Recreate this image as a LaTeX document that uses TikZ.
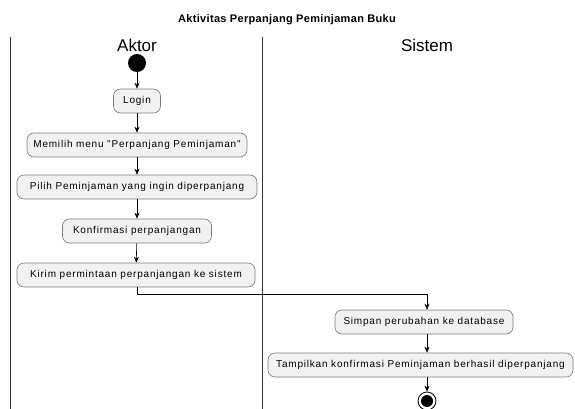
\documentclass[tikz,border=0pt]{standalone}
\usepackage{fontspec}
\setmainfont{Liberation Sans}
\newfontfamily\boxfont[LetterSpace=8]{Liberation Sans}
\newfontfamily\titlefont[LetterSpace=3]{Liberation Sans}
\usetikzlibrary{arrows.meta}
\definecolor{boxfill}{HTML}{F1F1F1}
\definecolor{boxline}{HTML}{7A7A7A}
\begin{document}
\begin{tikzpicture}[x=1pt,y=-1pt,
  act/.style={draw=boxline,fill=boxfill,rounded corners=7pt,minimum height=24pt,inner xsep=2pt,font=\boxfont\fontsize{10}{11}\selectfont,line width=0.6pt},
  flow/.style={draw=black,line width=0.6pt,-{Stealth[length=6pt,width=5pt]}},
  lane/.style={draw=black!80,line width=0.8pt}]
\useasboundingbox (0,0) rectangle (575,409);
\node[font=\titlefont\bfseries\fontsize{11}{12}\selectfont] (title) at (287,20) {Aktivitas Perpanjang Peminjaman Buku};
\coordinate (l1t) at (10,37); \coordinate (l1b) at (10,409);
\coordinate (l2t) at (262,37); \coordinate (l2b) at (262,409);
\draw[lane] (l1t) -- (l1b);
\draw[lane] (l2t) -- (l2b);
\node[font=\fontsize{17}{19}\selectfont] (aktor) at (137,45) {Aktor};
\node[font=\fontsize{17}{19}\selectfont] (sistem) at (427,45) {Sistem};
\node[circle,fill=black,minimum size=18pt,inner sep=0] (start) at (137,63) {};
\node[act,minimum width=47pt] (login) at (137,101) {Login};
\node[act,minimum width=220pt] (memilih) at (137,145) {Memilih menu "Perpanjang Peminjaman"};
\node[act,minimum width=240pt] (pilih) at (137,187) {Pilih Peminjaman yang ingin diperpanjang};
\node[act,minimum width=149pt] (konf) at (137,231) {Konfirmasi perpanjangan};
\node[act,minimum width=238pt] (kirim) at (136,275) {Kirim permintaan perpanjangan ke sistem};
\node[act,minimum width=178pt] (simpan) at (424,322) {Simpan perubahan ke database};
\node[act,minimum width=305pt] (tampil) at (420.5,365) {Tampilkan konfirmasi Peminjaman berhasil diperpanjang};
\node[circle,draw=black,line width=0.8pt,minimum size=18pt,inner sep=0] (end) at (427,401) {};
\node[circle,fill=black,minimum size=12pt,inner sep=0] (endin) at (427,401) {};
\draw[flow] (start) -- (login);
\draw[flow] (login) -- (memilih);
\draw[flow] (memilih) -- (pilih);
\draw[flow] (pilih) -- (konf);
\draw[flow] (konf) -- (kirim);
\coordinate (bend1) at (137,294);
\coordinate (bend2) at (427,294);
\draw[flow] (kirim.south -| bend1) -- (bend1) -- (bend2) -- (simpan.north -| bend2);
\draw[flow] (simpan.south -| bend2) -- (tampil.north -| bend2);
\draw[flow] (tampil.south -| bend2) -- (end);
\end{tikzpicture}
\end{document}
